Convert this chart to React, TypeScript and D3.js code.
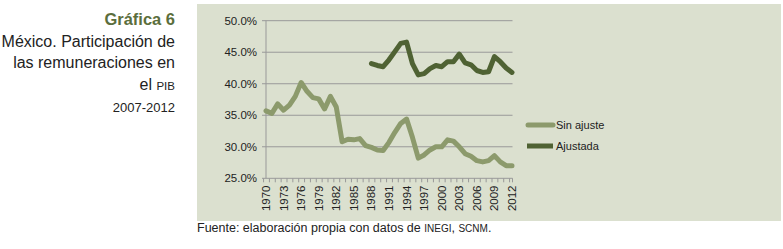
import React from "react";
import * as d3 from "d3";

const years: number[] = d3.range(1970, 2013);
const sinAjuste: number[] = [
  35.7, 35.3, 36.8, 35.8, 36.6, 38.0, 40.2, 38.8, 37.8, 37.6,
  36.0, 38.0, 36.3, 30.8, 31.2, 31.1, 31.3, 30.2, 29.9, 29.5,
  29.4, 30.7, 32.3, 33.7, 34.4, 31.5, 28.2, 28.7, 29.5, 30.0,
  30.0, 31.1, 30.9, 30.0, 28.9, 28.5, 27.8, 27.6, 27.8, 28.6,
  27.6, 27.0, 27.0,
];
const ajustadaYears: number[] = d3.range(1988, 2013);
const ajustada: number[] = [
  43.2, 42.9, 42.7, 43.8, 45.1, 46.4, 46.6, 43.2, 41.4, 41.6,
  42.4, 42.9, 42.7, 43.5, 43.5, 44.7, 43.3, 43.0, 42.1, 41.8,
  41.9, 44.3, 43.5, 42.5, 41.8,
];
const yTicks: number[] = [25, 30, 35, 40, 45, 50];
const labelYears: number[] = d3.range(1970, 2013, 3);

const COL_LIGHT = "#8c9a6c";
const COL_DARK = "#4f6233";
const FONT = "'Liberation Sans', Arial, Helvetica, sans-serif";

export default function App() {
  const W = 783, H = 249;
  const x = d3.scalePoint<number>().domain(years).range([266, 512]);
  const y = d3.scaleLinear().domain([25, 50]).range([178.3, 20.7]);
  const line = d3
    .line<[number, number]>()
    .x((d) => x(d[0]) as number)
    .y((d) => y(d[1]))
    .curve(d3.curveLinear);
  const sinPts: [number, number][] = years.map((yr, i) => [yr, sinAjuste[i]]);
  const ajPts: [number, number][] = ajustadaYears.map((yr, i) => [yr, ajustada[i]]);
  const step = x.step();

  return (
    <svg
      width={W}
      height={H}
      style={{ position: "absolute", left: 0, top: 0, fontFamily: FONT }}
    >
      <rect x={0} y={0} width={W} height={H} fill="#ffffff" />
      <rect x={197} y={4} width={584} height={217} fill="#dbe0cf" />

      {/* Title block */}
      <g textAnchor="end" fill="#222">
        <text x={175} y={25} fontSize={16.5} fontWeight="bold" fill="#5b6e3c">
          Gráfica 6
        </text>
        <text x={175} y={46.5} fontSize={16}>
          México. Participación de
        </text>
        <text x={175} y={68} fontSize={16}>
          las remuneraciones en
        </text>
        <text x={175} y={89.5} fontSize={16}>
          el <tspan fontSize={11.5}>PIB</tspan>
        </text>
        <text x={175} y={111.5} fontSize={13}>
          2007-2012
        </text>
      </g>

      {/* Gridlines */}
      {yTicks.map((t) => (
        <line
          key={t}
          x1={262}
          x2={512.5}
          y1={y(t)}
          y2={y(t)}
          stroke="#999"
          strokeWidth={1}
        />
      ))}
      {/* Axes */}
      <line x1={266} x2={266} y1={y(50)} y2={y(25)} stroke="#999" strokeWidth={1} />
      {years.map((yr) => (
        <line
          key={yr}
          x1={(x(yr) as number) - step / 2 + 0.5}
          x2={(x(yr) as number) - step / 2 + 0.5}
          y1={y(25)}
          y2={y(25) + 4}
          stroke="#999"
          strokeWidth={1}
        />
      ))}
      <line
        x1={512.5}
        x2={512.5}
        y1={y(25)}
        y2={y(25) + 4}
        stroke="#999"
        strokeWidth={1}
      />

      {/* Y labels */}
      {yTicks.map((t) => (
        <text
          key={t}
          x={257}
          y={y(t) + 4}
          textAnchor="end"
          fontSize={11.5}
          fill="#222"
        >
          {t.toFixed(1) + "%"}
        </text>
      ))}
      {/* X labels */}
      {labelYears.map((yr) => (
        <text
          key={yr}
          transform={`translate(${(x(yr) as number) + 4},185.5) rotate(-90)`}
          textAnchor="end"
          fontSize={11.5}
          fill="#222"
        >
          {yr}
        </text>
      ))}

      {/* Lines */}
      <path
        d={line(sinPts) || ""}
        fill="none"
        stroke={COL_LIGHT}
        strokeWidth={5}
        strokeLinejoin="round"
        strokeLinecap="round"
      />
      <path
        d={line(ajPts) || ""}
        fill="none"
        stroke={COL_DARK}
        strokeWidth={5}
        strokeLinejoin="round"
        strokeLinecap="round"
      />

      {/* Legend */}
      <line x1={528} x2={553} y1={125} y2={125} stroke={COL_LIGHT} strokeWidth={5} strokeLinecap="round" />
      <text x={556} y={129} fontSize={11} fill="#222">
        Sin ajuste
      </text>
      <line x1={527} x2={553} y1={146} y2={146} stroke={COL_DARK} strokeWidth={5} />
      <text x={556} y={150} fontSize={11} fill="#222">
        Ajustada
      </text>

      {/* Source */}
      <text x={197} y={232} fontSize={12.5} fill="#222">
        Fuente: elaboración propia con datos de <tspan fontSize={10}>INEGI</tspan>,{" "}
        <tspan fontSize={10}>SCNM</tspan>.
      </text>
    </svg>
  );
}
